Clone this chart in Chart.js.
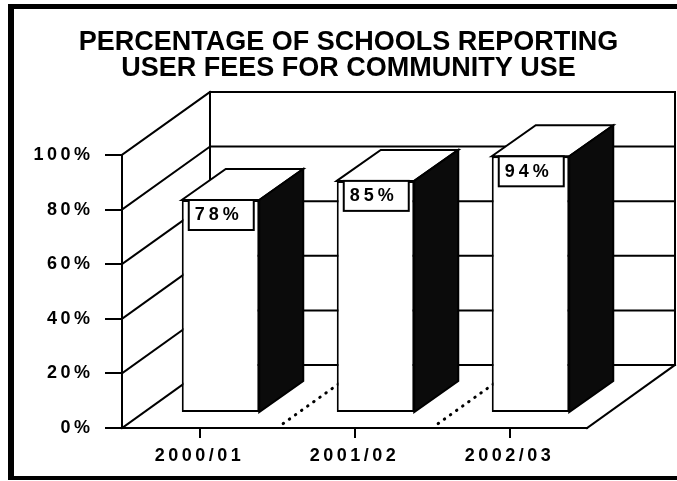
<!DOCTYPE html>
<html>
<head>
<title>Schools reporting user fees for community use</title>
<script src="https://cdn.jsdelivr.net/npm/chart.js"></script>
<style>
    html, body {
        margin: 0;
        padding: 0;
        background: #fff;
    }
</style>
</head>
<body>
<canvas id="feesChart" width="677" height="481"></canvas>
<script>
    // data
    const years = ['2000/01', '2001/02', '2002/03'];
    const pctReporting = [78, 85, 94];
    const pctTicks = [0, 20, 40, 60, 80, 100];

    // 3d look: depth of the floor / walls and where the bars sit inside it
    const WALL = { dx: 88, dy: -63 };
    const BAR_FRONT = { dx: 21, dy: -15 };
    const BAR_BACK = { dx: 65, dy: -46 };
    const INK = '#000';

    Chart.defaults.font.family = '"Liberation Sans", Arial, Helvetica, sans-serif';
    Chart.defaults.font.weight = 'bold';
    Chart.defaults.color = INK;

    function seg(ctx, x1, y1, x2, y2) {
        ctx.beginPath();
        ctx.moveTo(x1, y1);
        ctx.lineTo(x2, y2);
        ctx.stroke();
    }

    function poly(ctx, pts, fill) {
        ctx.beginPath();
        pts.forEach(([px, py], i) => i ? ctx.lineTo(px, py) : ctx.moveTo(px, py));
        ctx.closePath();
        ctx.fillStyle = fill;
        ctx.fill();
        ctx.stroke();
    }

    const box3d = {
        id: 'box3d',
        beforeDatasetsDraw(chart) {
            const { ctx, chartArea: a, scales: { x, y } } = chart;
            const top = y.getPixelForValue(100);
            const base = y.getPixelForValue(0);
            ctx.save();
            ctx.strokeStyle = INK;
            ctx.lineWidth = 2;
            ctx.lineCap = 'square';
            // side wall diagonals + back wall grid
            pctTicks.forEach(v => {
                const py = y.getPixelForValue(v);
                seg(ctx, a.left, py, a.left + WALL.dx, py + WALL.dy);
                seg(ctx, a.left + WALL.dx, py + WALL.dy, a.right + WALL.dx, py + WALL.dy);
            });
            seg(ctx, a.left + WALL.dx, top + WALL.dy, a.left + WALL.dx, base + WALL.dy);
            seg(ctx, a.right + WALL.dx, top + WALL.dy, a.right + WALL.dx, base + WALL.dy);
            seg(ctx, a.right, base, a.right + WALL.dx, base + WALL.dy);
            // dotted floor lines between the years
            ctx.setLineDash([0.5, 7]);
            ctx.lineCap = 'round';
            ctx.lineWidth = 3;
            for (let i = 1; i < years.length; i++) {
                const px = (x.getPixelForValue(i - 1) + x.getPixelForValue(i)) / 2;
                seg(ctx, px + WALL.dx * 0.07, base + WALL.dy * 0.07, px + WALL.dx, base + WALL.dy);
            }
            ctx.restore();
            // chart.js draws the bar fronts, pushed back into the box
            ctx.save();
            ctx.translate(BAR_FRONT.dx, BAR_FRONT.dy);
        },
        afterDatasetsDraw(chart) {
            const { ctx } = chart;
            ctx.restore();
            const ddx = BAR_BACK.dx - BAR_FRONT.dx;
            const ddy = BAR_BACK.dy - BAR_FRONT.dy;
            const bars = chart.getDatasetMeta(0).data;
            ctx.save();
            ctx.strokeStyle = INK;
            ctx.lineWidth = 2;
            ctx.lineJoin = 'miter';
            bars.forEach(bar => {
                const { x: cx, y: ty, base, width } = bar.getProps(['x', 'y', 'base', 'width'], true);
                const l = cx - width / 2 + BAR_FRONT.dx;
                const r = cx + width / 2 + BAR_FRONT.dx;
                const t = ty + BAR_FRONT.dy;
                const b = base + BAR_FRONT.dy;
                poly(ctx, [[l, t], [l + ddx, t + ddy], [r + ddx, t + ddy], [r, t]], '#fff');
                poly(ctx, [[r, t], [r + ddx, t + ddy], [r + ddx, b + ddy], [r, b]], '#0b0b0b');
            });
            // value boxes
            ctx.font = 'bold 18px "Liberation Sans", Arial, sans-serif';
            ctx.letterSpacing = '4px';
            ctx.textBaseline = 'middle';
            ctx.textAlign = 'left';
            bars.forEach((bar, i) => {
                const { x: cx, y: ty, width } = bar.getProps(['x', 'y', 'width'], true);
                const l = cx - width / 2 + BAR_FRONT.dx + 7;
                const t = ty + BAR_FRONT.dy;
                ctx.fillStyle = '#fff';
                ctx.fillRect(l, t, 65, 30);
                ctx.strokeRect(l, t, 65, 30);
                ctx.fillStyle = INK;
                ctx.fillText(pctReporting[i] + '%', l + 6, t + 15.5);
            });
            ctx.restore();
            // spaced-out axis labels are drawn after this (ticks z: 1)
            ctx.letterSpacing = '3.5px';
        },
        afterDraw(chart) {
            const { ctx } = chart;
            ctx.letterSpacing = '0px';
            ctx.save();
            ctx.fillStyle = INK;
            ctx.fillRect(8, 4, 6, 476);
            ctx.fillRect(8, 4, 669, 5);
            ctx.fillRect(8, 476, 669, 4);
            ctx.restore();
        }
    };

    new Chart(document.getElementById('feesChart'), {
        type: 'bar',
        data: {
            labels: years,
            datasets: [{
                data: pctReporting,
                backgroundColor: '#fff',
                borderColor: INK,
                borderWidth: 2,
                borderSkipped: false,
                barPercentage: 0.5,
                categoryPercentage: 1,
            }]
        },
        options: {
            responsive: false,
            animation: false,
            layout: {
                padding: { left: 20, right: 0, top: 0, bottom: 0 }
            },
            plugins: {
                legend: { display: false },
                tooltip: { enabled: false },
                title: {
                    display: true,
                    text: ['PERCENTAGE OF SCHOOLS REPORTING', 'USER FEES FOR COMMUNITY USE'],
                    color: INK,
                    font: { size: 27, weight: 'bold', lineHeight: 0.98 },
                    padding: { top: 29, bottom: 73 },
                }
            },
            scales: {
                x: {
                    grid: { offset: false, drawOnChartArea: false, tickLength: 10, color: INK, lineWidth: 2 },
                    border: { color: INK, width: 2 },
                    ticks: { z: 1, padding: 7, maxRotation: 0, font: { size: 18 } },
                    afterFit: (s) => { s.height = 53; },
                },
                y: {
                    min: 0,
                    max: 100,
                    grid: { drawOnChartArea: false, tickLength: 17, color: INK, lineWidth: 2 },
                    border: { color: INK, width: 2 },
                    ticks: { z: 1, stepSize: 20, padding: 11.5, font: { size: 18 }, callback: (v) => v + '%' },
                    afterFit: (s) => { s.width = 102; },
                },
                // empty strip on the right that leaves room for the box depth
                depth: {
                    type: 'linear',
                    position: 'right',
                    grid: { display: false },
                    border: { display: false },
                    ticks: { display: false },
                    afterFit: (s) => { s.width = 90; },
                }
            }
        },
        plugins: [box3d]
    });
</script>
</body>
</html>
